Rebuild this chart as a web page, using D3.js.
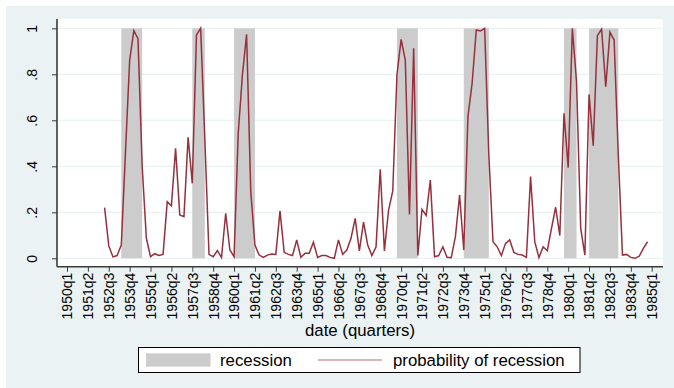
<!DOCTYPE html>
<html>
<head>
<meta charset="utf-8">
<script src="https://cdn.jsdelivr.net/npm/d3@7"></script>
<style>
  body { margin: 0; background: #fff; }
  text { font-family: "Liberation Sans", Arial, sans-serif; fill: #000; }
</style>
</head>
<body>
<svg id="chart" width="674" height="388"></svg>
<script>
// quarter tick labels on the x axis
const tickLabels = ["1950q1", "1951q2", "1952q3", "1953q4", "1955q1", "1956q2", "1957q3", "1958q4",
  "1960q1", "1961q2", "1962q3", "1963q4", "1965q1", "1966q2", "1967q3", "1968q4",
  "1970q1", "1971q2", "1972q3", "1973q4", "1975q1", "1976q2", "1977q3", "1978q4",
  "1980q1", "1981q2", "1982q3", "1983q4", "1985q1"];

const yTicks = [0, .2, .4, .6, .8, 1];
const yTickLabels = ["0", ".2", ".4", ".6", ".8", "1"];

// shaded recession spans (first and last quarter)
const recessionStart = ["1953q2", "1957q3", "1960q1", "1969q4", "1973q4", "1979q4", "1981q2"];
const recessionEnd   = ["1954q3", "1958q2", "1961q2", "1971q1", "1975q2", "1980q3", "1983q1"];

// probability of recession, one value per quarter starting at probStart
const probStart = "1952q2";
const prob = [
  0.22, 0.055, 0.006, 0.012, 0.058, 0.46, 0.86, 0.99, 0.955, 0.40, 0.087,
  0.007, 0.02, 0.012, 0.017, 0.246, 0.228, 0.478, 0.188, 0.181, 0.526, 0.326,
  0.971, 1.0, 0.52, 0.017, 0.007, 0.033, 0.004, 0.196, 0.036, 0.007, 0.543,
  0.797, 0.974, 0.29, 0.058, 0.014, 0.004, 0.014, 0.019, 0.017, 0.206, 0.026,
  0.017, 0.012, 0.08, 0.004, 0.022, 0.022, 0.07, 0.004, 0.012, 0.012, 0.004,
  0.0, 0.08, 0.017, 0.036, 0.087, 0.174, 0.032, 0.157, 0.058, 0.012, 0.05,
  0.387, 0.032, 0.21, 0.293, 0.797, 0.952, 0.862, 0.191, 0.913, 0.012, 0.213,
  0.186, 0.34, 0.007, 0.012, 0.05, 0.004, 0.003, 0.094, 0.275, 0.036, 0.616,
  0.761, 0.993, 0.988, 1.0, 0.45, 0.072, 0.05, 0.012, 0.065, 0.08, 0.025,
  0.017, 0.014, 0.004, 0.355, 0.072, 0.003, 0.05, 0.033, 0.13, 0.222, 0.099,
  0.63, 0.394, 1.0, 0.768, 0.13, 0.014, 0.713, 0.49, 0.968, 0.997, 0.746,
  0.983, 0.949, 0.45, 0.014, 0.017, 0.004, 0.0, 0.009, 0.043, 0.072
];

const colors = {
  bg: "#eaf2f3",
  grid: "#eaf2f3",
  shade: "#cccccc",
  line: "#96303c",
  axis: "#3a3a3a"
};

// "1953q2" -> running quarter number
function qnum(s) {
  return (+s.slice(0, 4)) * 4 + (+s.slice(5)) - 1;
}

const plot = {left: 57, right: 663, top: 19, bottom: 266.7};

const x = d3.scaleLinear()
  .domain([qnum("1950q1"), qnum("1985q1")])
  .range([67, 651.7]);
const y = d3.scaleLinear().domain([0, 1]).range([258.3, 28.3]);

const svg = d3.select("#chart");

// background
svg.append("rect").attr("x", 6).attr("y", 6).attr("width", 668).attr("height", 382)
  .attr("fill", colors.bg);
svg.append("rect").attr("x", plot.left).attr("y", plot.top)
  .attr("width", plot.right - plot.left).attr("height", plot.bottom - plot.top)
  .attr("fill", "#fff");

// grid
svg.append("g").selectAll("line").data(yTicks).join("line")
  .attr("x1", plot.left).attr("x2", plot.right)
  .attr("y1", d => y(d)).attr("y2", d => y(d))
  .attr("stroke", colors.grid).attr("stroke-width", 1.2);

// recession shading
svg.append("g").selectAll("rect").data(recessionStart).join("rect")
  .attr("x", (d, i) => x(qnum(d)))
  .attr("width", (d, i) => x(qnum(recessionEnd[i])) - x(qnum(d)))
  .attr("y", y(1)).attr("height", y(0) - y(1))
  .attr("fill", colors.shade);

// probability line
const q0 = qnum(probStart);
const line = d3.line().x((d, i) => x(q0 + i)).y(d => y(d));
svg.append("path").datum(prob)
  .attr("d", line)
  .attr("fill", "none")
  .attr("stroke", colors.line)
  .attr("stroke-width", 1.5)
  .attr("stroke-linejoin", "miter");

// x axis
const xAxis = d3.axisBottom(x)
  .tickValues(tickLabels.map(qnum))
  .tickFormat((d, i) => tickLabels[i])
  .tickSize(5)
  .tickSizeOuter(0);
const gx = svg.append("g").attr("transform", `translate(0,${plot.bottom})`).call(xAxis);
gx.select(".domain").remove();
gx.append("line").attr("x1", plot.left).attr("x2", plot.right)
  .attr("stroke", colors.axis).attr("stroke-width", 1.6);
gx.selectAll(".tick line").attr("stroke", colors.axis);
gx.selectAll(".tick text")
  .attr("transform", "translate(0,6) rotate(-90)")
  .attr("x", 0).attr("y", 0).attr("dy", "0.35em")
  .attr("text-anchor", "end")
  .style("font-size", "14px")
  .style("font-family", '"Liberation Sans", Arial, sans-serif')
  .attr("fill", "#000");

// y axis
const yAxis = d3.axisLeft(y)
  .tickValues(yTicks)
  .tickFormat((d, i) => yTickLabels[i])
  .tickSize(5)
  .tickSizeOuter(0);
const gy = svg.append("g").attr("transform", `translate(${plot.left},0)`).call(yAxis);
gy.select(".domain").remove();
gy.append("line").attr("y1", plot.top).attr("y2", plot.bottom)
  .attr("stroke", colors.axis).attr("stroke-width", 1.6);
gy.selectAll(".tick line").attr("stroke", colors.axis);
gy.selectAll(".tick text")
  .attr("x", 0).attr("dy", 0)
  .attr("transform", "translate(-20.5,0) rotate(-90)")
  .attr("text-anchor", "middle")
  .style("font-size", "14px")
  .style("font-family", '"Liberation Sans", Arial, sans-serif')
  .attr("fill", "#000");

// axis title
svg.append("text")
  .attr("x", (plot.left + plot.right) / 2).attr("y", 336)
  .attr("text-anchor", "middle")
  .style("font-size", "16.8px")
  .text("date (quarters)");

// legend
const lg = svg.append("g");
lg.append("rect").attr("x", 138.5).attr("y", 347.5).attr("width", 441.5).attr("height", 25)
  .attr("fill", "#fff").attr("stroke", "#000").attr("stroke-width", 1);
lg.append("rect").attr("x", 146).attr("y", 353.3).attr("width", 64.5).attr("height", 13.4)
  .attr("fill", colors.shade);
lg.append("text").attr("x", 220).attr("y", 366).style("font-size", "16.8px").text("recession");
lg.append("line").attr("x1", 318).attr("x2", 382).attr("y1", 360).attr("y2", 360)
  .attr("stroke", colors.line).attr("stroke-width", 1.2).attr("opacity", 0.7);
lg.append("text").attr("x", 393).attr("y", 366).style("font-size", "16.8px").text("probability of recession");
</script>
</body>
</html>
